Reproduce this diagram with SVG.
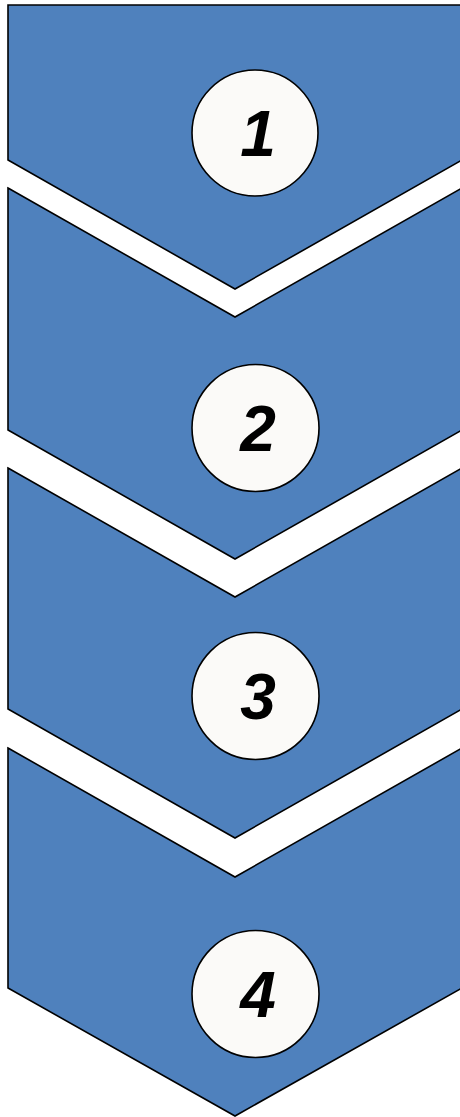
<svg xmlns="http://www.w3.org/2000/svg" width="460" height="1117" viewBox="0 0 460 1117">
<style>
.chev{fill:#4F81BD;stroke:#000;stroke-width:1.6;stroke-linejoin:miter}
.badge{fill:#FBFAF8;stroke:#000;stroke-width:1.6}
.num{font-family:"Liberation Sans",Arial,sans-serif;font-weight:bold;font-style:italic;font-size:64px;fill:#000;text-anchor:middle}
</style>
<rect width="460" height="1117" fill="#fff"/>
<g id="step1">
<polygon class="chev" points="8,5 462,5 462,160 235,289 8,160"/>
<circle class="badge" cx="255" cy="133" r="63"/>
<text class="num" x="258" y="156">1</text>
</g>
<g id="step2">
<polygon class="chev" points="8,188 235,317 462,188 462,430 235,559 8,430"/>
<circle class="badge" cx="255.5" cy="428" r="63.5"/>
<text class="num" x="258" y="451">2</text>
</g>
<g id="step3">
<polygon class="chev" points="8,468 235,597 462,468 462,709 235,838 8,709"/>
<circle class="badge" cx="255.5" cy="696" r="63.5"/>
<text class="num" x="258" y="719">3</text>
</g>
<g id="step4">
<polygon class="chev" points="8,748 235,877 462,748 462,988 235,1116 8,988"/>
<circle class="badge" cx="255.5" cy="994" r="63.5"/>
<text class="num" x="258" y="1017">4</text>
</g>
<g id="connectors"/>
</svg>
